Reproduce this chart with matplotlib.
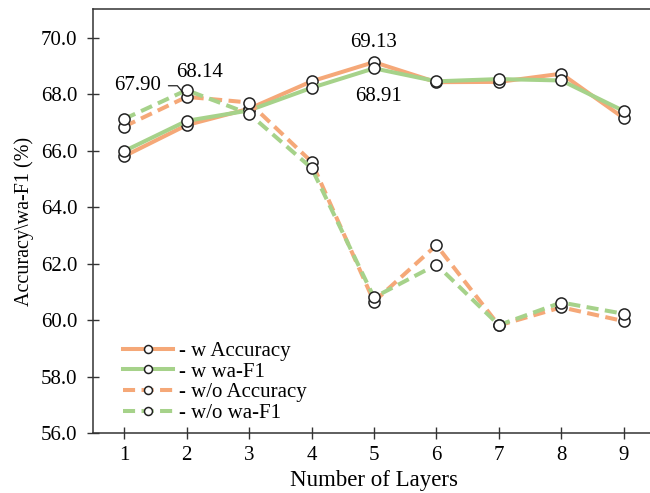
import matplotlib
matplotlib.use('Agg')
import matplotlib.pyplot as plt

# data
layers = [1, 2, 3, 4, 5, 6, 7, 8, 9]
acc_w = [65.80, 66.90, 67.48, 68.45, 69.13, 68.42, 68.43, 68.72, 67.15]
f1_w = [65.98, 67.05, 67.42, 68.22, 68.91, 68.45, 68.53, 68.48, 67.40]
acc_wo = [66.85, 67.90, 67.70, 65.60, 60.65, 62.65, 59.81, 60.45, 59.96]
f1_wo = [67.12, 68.14, 67.30, 65.38, 60.80, 61.96, 59.82, 60.62, 60.22]
yticks = [56.0, 58.0, 60.0, 62.0, 64.0, 66.0, 68.0, 70.0]

orange = '#F5A878'
green = '#A6D28A'
axis_col = '#333333'

plt.rcParams['font.family'] = ['Liberation Serif', 'DejaVu Serif']
plt.rcParams['font.size'] = 15

fig = plt.figure(figsize=(6.5, 4.93), dpi=100)
ax = fig.add_axes([93 / 650, 60 / 493, (655 - 93) / 650, (433 - 9.3) / 493])

mk = dict(marker='o', markersize=8, markerfacecolor='white',
          markeredgecolor='#222222', markeredgewidth=1.1)
dash = (0, (3, 1.6))

ax.plot(layers, acc_w, color=orange, lw=2.9, label='- w Accuracy', **mk)
ax.plot(layers, f1_w, color=green, lw=2.9, label='- w wa-F1', **mk)
ax.plot(layers, acc_wo, color=orange, lw=2.9, ls=dash, label='- w/o Accuracy', **mk)
ax.plot(layers, f1_wo, color=green, lw=2.9, ls=dash, label='- w/o wa-F1', **mk)

# value labels
ax.annotate('%.2f' % acc_wo[1], xy=(layers[1], acc_wo[1]), xytext=(-35, 8),
            textcoords='offset points', ha='center', va='center',
            arrowprops=dict(arrowstyle='-', color='#222222', lw=0.9,
                            connectionstyle='angle,angleA=0,angleB=-50,rad=0',
                            relpos=(1.0, 0.5), shrinkA=3, shrinkB=4))
ax.annotate('%.2f' % f1_wo[1], xy=(layers[1], f1_wo[1]), xytext=(9, 13),
            textcoords='offset points', ha='center', va='center')
ax.annotate('%.2f' % acc_w[4], xy=(layers[4], acc_w[4]), xytext=(0, 14),
            textcoords='offset points', ha='center', va='center')
ax.annotate('%.2f' % f1_w[4], xy=(layers[4], f1_w[4]), xytext=(3, -20),
            textcoords='offset points', ha='center', va='center')

ax.set_xlim(0.5, 9.5)
ax.set_ylim(56, 71)
ax.set_xticks(layers)
ax.set_yticks(yticks)
ax.set_yticklabels(['%.1f' % t for t in yticks])

for s in ['left', 'top', 'bottom']:
    ax.spines[s].set_color(axis_col)
    ax.spines[s].set_linewidth(1.1)
ax.spines['right'].set_visible(False)
ax.tick_params(axis='both', direction='inout', length=8.5, width=1.0, color=axis_col)
ax.tick_params(axis='y', pad=7)
ax.tick_params(axis='x', pad=5)

ax.set_xlabel('Number of Layers', fontsize=16.5, labelpad=4)
ax.set_ylabel('Accuracy\\wa-F1 (%)', fontsize=14.5, labelpad=5)

ax.legend(loc='upper left', bbox_to_anchor=(0.053, 0.216), frameon=False,
          borderpad=0, borderaxespad=0, handlelength=2.4, handletextpad=0.3,
          labelspacing=0.05, markerscale=0.72)

fig.savefig('out.png', dpi=100)
